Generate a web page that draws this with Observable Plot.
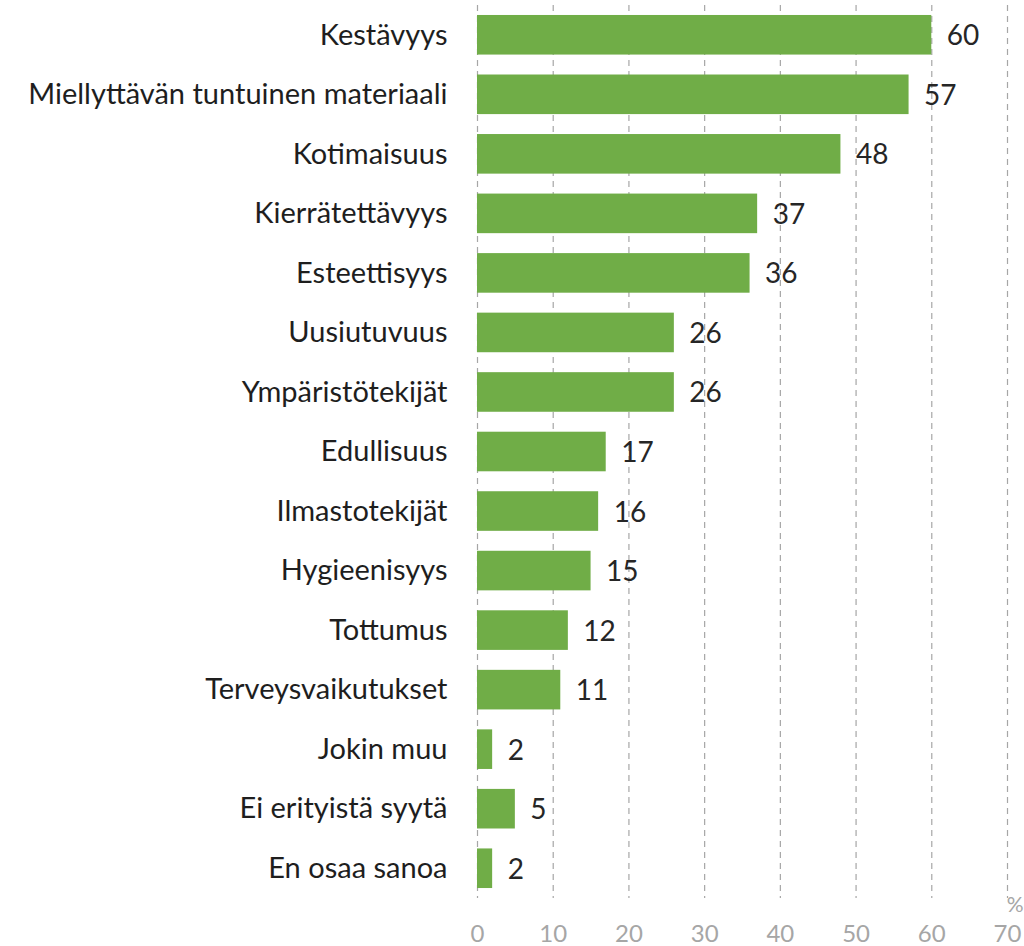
<!DOCTYPE html>
<html>
<head>
<meta charset="utf-8">
<script src="https://cdn.jsdelivr.net/npm/d3@7"></script>
<script src="https://cdn.jsdelivr.net/npm/@observablehq/plot@0.6"></script>
<style>
  html, body { margin: 0; padding: 0; background: #fff; }
  #chart svg { display: block; }
</style>
</head>
<body>
<div id="chart"></div>
<script>
const categories = [
  "Kestävyys",
  "Miellyttävän tuntuinen materiaali",
  "Kotimaisuus",
  "Kierrätettävyys",
  "Esteettisyys",
  "Uusiutuvuus",
  "Ympäristötekijät",
  "Edullisuus",
  "Ilmastotekijät",
  "Hygieenisyys",
  "Tottumus",
  "Terveysvaikutukset",
  "Jokin muu",
  "Ei erityistä syytä",
  "En osaa sanoa"
];
const values = [60, 57, 48, 37, 36, 26, 26, 17, 16, 15, 12, 11, 2, 5, 2];
const xTicks = [0, 10, 20, 30, 40, 50, 60, 70];
const unitLabel = ["%"];

const data = categories.map((c, i) => ({category: c, value: values[i]}));

const chart = Plot.plot({
  width: 1024,
  height: 946,
  marginLeft: 477,
  marginRight: 17,
  marginTop: 5,
  marginBottom: 48,
  style: {fontFamily: "Lato, 'Open Sans', sans-serif", background: "#fff"},
  x: {domain: [0, 70], ticks: xTicks, label: null},
  y: {domain: categories, paddingInner: 0.335, paddingOuter: 0.1675, round: false, label: null},
  marks: [
    Plot.gridX(xTicks, {stroke: "#a6a6a6", strokeOpacity: 1, strokeDasharray: "6,5", strokeWidth: 1.2}),
    Plot.barX(data, {x: "value", y: "category", fill: "#70ad47"}),
    Plot.text(data, {x: "value", y: "category", text: d => String(d.value), textAnchor: "start", dx: 15, dy: 1, fontSize: 28, fill: "#262626"}),
    Plot.axisY({tickSize: 0, tickPadding: 30, fontSize: 29, color: "#1e1e1e", label: null}),
    Plot.axisX(xTicks, {tickSize: 0, tickPadding: 26, fontSize: 24, color: "#a6a6a6", label: null}),
    Plot.text(unitLabel, {frameAnchor: "bottom-right", text: d => d, textAnchor: "end", dx: 16, dy: 13, fontSize: 21, fill: "#a6a6a6"})
  ]
});
document.getElementById("chart").appendChild(chart);
</script>
</body>
</html>
